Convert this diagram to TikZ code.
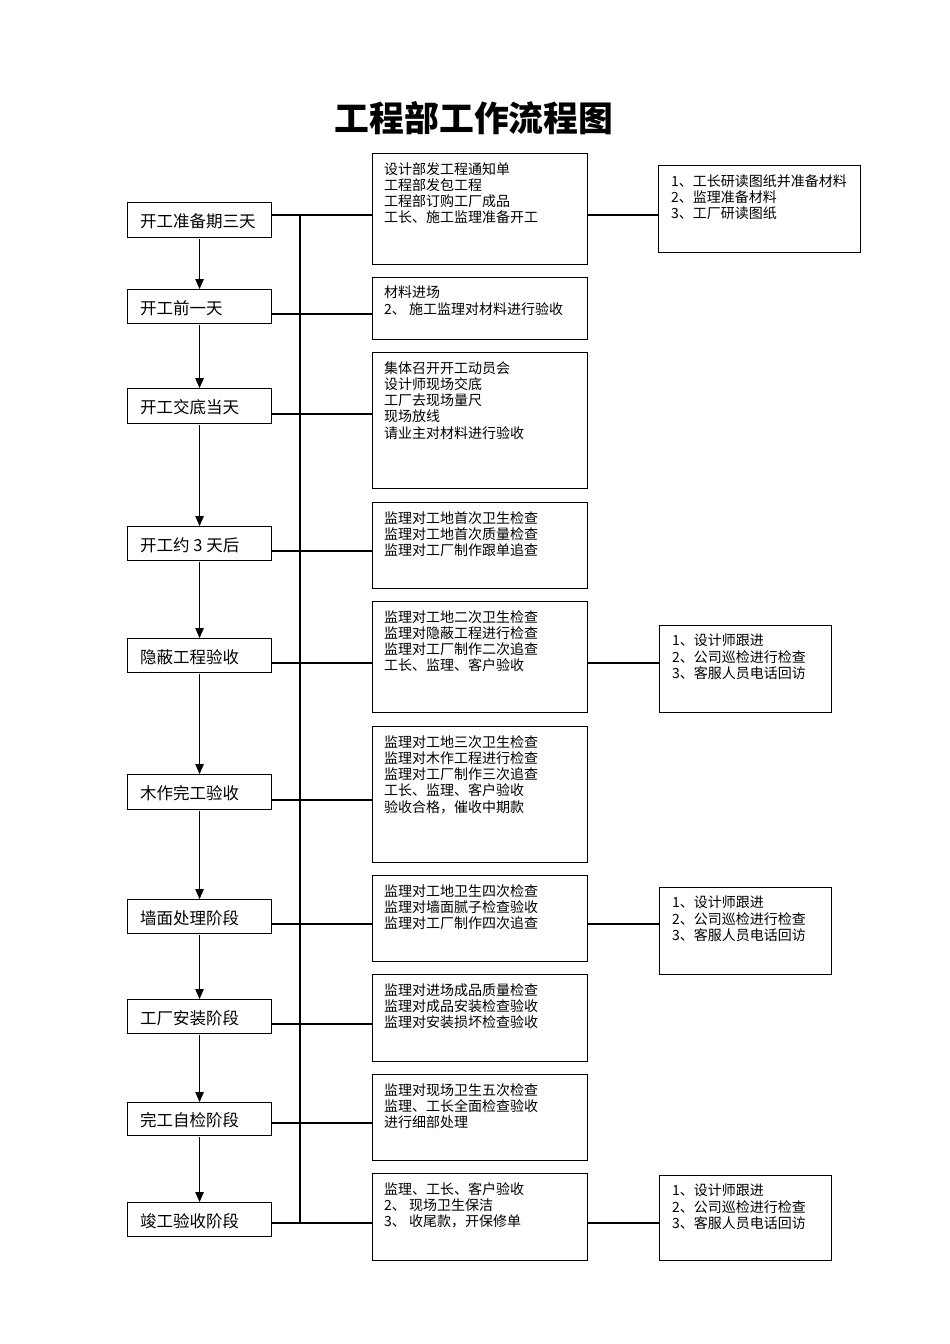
\documentclass[tikz,border=0pt]{standalone}
\usepackage{fontspec}
\newfontfamily\cjk{Noto Sans CJK SC}
\usetikzlibrary{arrows.meta,calc}
\tikzset{
  box/.style={draw=black, line width=1.1pt, rectangle, inner sep=0pt, anchor=north west},
  ltext/.style={anchor=west, inner sep=0pt, font=\cjk\fontsize{16.5pt}{19pt}\selectfont},
  btext/.style={anchor=north west, inner sep=0pt, align=left,
    font=\cjk\fontsize{14pt}{16.3pt}\selectfont},
  conn/.style={draw=black, line width=1.1pt},
  arr/.style={draw=black, line width=1.1pt, -{Triangle[length=10pt,width=8.5pt]}},
}
\begin{document}
\begin{tikzpicture}[x=1pt,y=-1pt]
\useasboundingbox (0,0) rectangle (950,1344);
% title
\node[inner sep=0pt, font=\cjk\bfseries\fontsize{34.8pt}{36pt}\selectfont] (title) at (474,118) {工程部工作流程图};
% left boxes
\node[box, minimum width=144pt, minimum height=35pt] (l1) at (127,202) {};
\node[box, minimum width=144pt, minimum height=34pt] (l2) at (127,289) {};
\node[box, minimum width=144pt, minimum height=35pt] (l3) at (127,388) {};
\node[box, minimum width=144pt, minimum height=34pt] (l4) at (127,526) {};
\node[box, minimum width=144pt, minimum height=34pt] (l5) at (127,638) {};
\node[box, minimum width=144pt, minimum height=35pt] (l6) at (127,774) {};
\node[box, minimum width=144pt, minimum height=34pt] (l7) at (127,899) {};
\node[box, minimum width=144pt, minimum height=34pt] (l8) at (127,999) {};
\node[box, minimum width=144pt, minimum height=33pt] (l9) at (127,1102) {};
\node[box, minimum width=144pt, minimum height=34pt] (l10) at (127,1202) {};
\foreach \n/\t in {l1/开工准备期三天, l2/开工前一天, l3/开工交底当天, l4/开工约 3 天后, l5/隐蔽工程验收,
  l6/木作完工验收, l7/墙面处理阶段, l8/工厂安装阶段, l9/完工自检阶段, l10/竣工验收阶段}
  \node[ltext] (\n t) at ($(\n.west)+(13,1.5)$) {\t};
% middle boxes
\node[box, minimum width=215pt, minimum height=111pt] (r1) at (372,153) {};
\node[box, minimum width=215pt, minimum height=62pt] (r2) at (372,277) {};
\node[box, minimum width=215pt, minimum height=136pt] (r3) at (372,352) {};
\node[box, minimum width=215pt, minimum height=86pt] (r4) at (372,502) {};
\node[box, minimum width=215pt, minimum height=111pt] (r5) at (372,601) {};
\node[box, minimum width=215pt, minimum height=136pt] (r6) at (372,726) {};
\node[box, minimum width=215pt, minimum height=86pt] (r7) at (372,875) {};
\node[box, minimum width=215pt, minimum height=87pt] (r8) at (372,974) {};
\node[box, minimum width=215pt, minimum height=86pt] (r9) at (372,1074) {};
\node[box, minimum width=215pt, minimum height=87pt] (r10) at (372,1173) {};
\node[btext] (r1t) at ($(r1.north west)+(12,9)$) {设计部发工程通知单\\工程部发包工程\\工程部订购工厂成品\\工长、施工监理准备开工};
\node[btext] (r2t) at ($(r2.north west)+(12,9)$) {材料进场\\2、 施工监理对材料进行验收};
\node[btext] (r3t) at ($(r3.north west)+(12,9)$) {集体召开开工动员会\\设计师现场交底\\工厂去现场量尺\\现场放线\\请业主对材料进行验收};
\node[btext] (r4t) at ($(r4.north west)+(12,9)$) {监理对工地首次卫生检查\\监理对工地首次质量检查\\监理对工厂制作跟单追查};
\node[btext] (r5t) at ($(r5.north west)+(12,9)$) {监理对工地二次卫生检查\\监理对隐蔽工程进行检查\\监理对工厂制作二次追查\\工长、监理、客户验收};
\node[btext] (r6t) at ($(r6.north west)+(12,9)$) {监理对工地三次卫生检查\\监理对木作工程进行检查\\监理对工厂制作三次追查\\工长、监理、客户验收\\验收合格，催收中期款};
\node[btext] (r7t) at ($(r7.north west)+(12,9)$) {监理对工地卫生四次检查\\监理对墙面腻子检查验收\\监理对工厂制作四次追查};
\node[btext] (r8t) at ($(r8.north west)+(12,9)$) {监理对进场成品质量检查\\监理对成品安装检查验收\\监理对安装损坏检查验收};
\node[btext] (r9t) at ($(r9.north west)+(12,9)$) {监理对现场卫生五次检查\\监理、工长全面检查验收\\进行细部处理};
\node[btext] (r10t) at ($(r10.north west)+(12,9)$) {监理、工长、客户验收\\2、 现场卫生保洁\\3、 收尾款，开保修单};
% far right boxes
\node[box, minimum width=202pt, minimum height=87pt] (f1) at (658,165) {};
\node[box, minimum width=172pt, minimum height=87pt] (f2) at (659,625) {};
\node[box, minimum width=172pt, minimum height=87pt] (f3) at (659,887) {};
\node[box, minimum width=172pt, minimum height=85pt] (f4) at (659,1175) {};
\node[btext] (f1t) at ($(f1.north west)+(13,9)$) {1、工长研读图纸并准备材料\\2、监理准备材料\\3、工厂研读图纸};
\foreach \f in {f2,f3,f4}
  \node[btext] (\f t) at ($(\f.north west)+(13,9)$) {1、设计师跟进\\2、公司巡检进行检查\\3、客服人员电话回访};
% junctions on the bus
\foreach \i/\y in {1/215, 2/314, 3/414, 4/551, 5/663, 6/800, 7/924, 8/1024, 9/1123, 10/1223}
  \coordinate (j\i) at (300,\y);
\draw[conn] (j1) -- (j10);
\foreach \i in {1,...,10}
  \draw[conn] (l\i.east |- j\i) -- (r\i.west |- j\i);
\draw[conn] (r1.east |- j1) -- (f1.west |- j1);
\draw[conn] (r5.east |- j5) -- (f2.west |- j5);
\draw[conn] (r7.east |- j7) -- (f3.west |- j7);
\draw[conn] (r10.east |- j10) -- (f4.west |- j10);
% arrows
\foreach \a/\b in {l1/l2, l2/l3, l3/l4, l4/l5, l5/l6, l6/l7, l7/l8, l8/l9, l9/l10}
  \draw[arr] ([yshift=-1pt]\a.south) -- (\b.north);
\end{tikzpicture}
\end{document}
